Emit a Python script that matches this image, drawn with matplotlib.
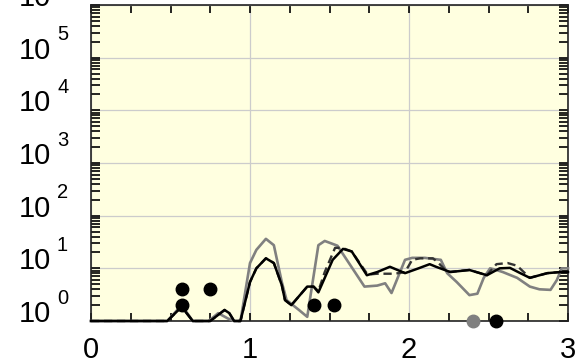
import matplotlib
matplotlib.use('Agg')
import matplotlib.pyplot as plt
import matplotlib.transforms as mtransforms
from matplotlib.ticker import MultipleLocator, LogLocator, NullFormatter

plt.rcParams['font.family'] = ['Liberation Sans', 'DejaVu Sans']

# solid black curve
black_x = [0, 0.48, 0.57, 0.64, 0.75, 0.84, 0.87, 0.90, 0.94, 1.00, 1.04, 1.10, 1.15, 1.20,
           1.22, 1.26, 1.36, 1.40, 1.43, 1.52, 1.585, 1.64, 1.735, 1.80, 1.88, 1.975, 2.06,
           2.13, 2.17, 2.26, 2.38, 2.49, 2.57, 2.635, 2.70, 2.76, 2.87, 2.95, 3.0]
black_y = [1, 1, 1.86, 1, 1, 1.62, 1.41, 1, 1, 5.5, 10, 15.5, 12.6, 4.8,
           2.5, 2.0, 4.5, 4.5, 3.5, 14.5, 23.4, 20.9, 7.4, 8.5, 10.7, 8.1, 10,
           12, 10.7, 8.5, 9.3, 7.4, 10, 10.2, 8.1, 6.6, 8.1, 8.5, 8.5]

# dashed curve
dash_x = [0, 0.48, 0.57, 0.64, 0.75, 0.84, 0.87, 0.90, 0.94, 1.00, 1.04, 1.10, 1.15, 1.20,
          1.22, 1.26, 1.36, 1.40, 1.43, 1.47, 1.535, 1.58, 1.64, 1.74, 1.80, 1.91, 1.975,
          2.02, 2.07, 2.15, 2.18, 2.24, 2.38, 2.49, 2.55, 2.62, 2.68, 2.76, 2.87, 2.95, 3.0]
dash_y = [1, 1, 1.86, 1, 1, 1.62, 1.41, 1, 1, 5.5, 10, 15.5, 12.6, 4.8,
          2.5, 2.0, 4.5, 4.5, 3.7, 8.5, 24.5, 24.5, 20.9, 7.6, 7.9, 7.9, 8.5,
          14.5, 15.5, 15.5, 13.2, 8.5, 9.3, 7.4, 12, 12.6, 11.2, 6.6, 8.1, 8.5, 8.5]

# gray curve
gray_x = [0, 0.48, 0.57, 0.64, 0.74, 0.80, 0.86, 0.90, 0.94, 1.00, 1.04, 1.10, 1.15, 1.20,
          1.23, 1.31, 1.36, 1.43, 1.47, 1.55, 1.72, 1.80, 1.85, 1.89, 1.975, 2.02, 2.10,
          2.20, 2.24, 2.30, 2.38, 2.43, 2.47, 2.51, 2.54, 2.59, 2.68, 2.76, 2.82, 2.89,
          2.93, 2.96, 3.0]
gray_y = [1, 1, 2.0, 1, 1, 1.41, 1.12, 1, 1, 12.6, 22.4, 36.3, 27.5, 5.5,
          2.5, 1.6, 1.2, 27.5, 33.1, 26.9, 4.5, 4.7, 5.2, 3.4, 14.5, 15.8, 15.8,
          14.5, 8.1, 5.5, 3.1, 3.3, 6.6, 10, 9.5, 8.5, 6.6, 4.5, 4.0, 3.9,
          6.0, 10, 10]

# dots
black_dot_x = [0.575, 0.575, 0.75, 1.405, 1.53, 2.545]
black_dot_y = [4.05, 2.0, 4.05, 2.0, 2.0, 1.0]
gray_dot_x = [2.40]
gray_dot_y = [1.0]

decades = [0, 1, 2, 3, 4, 5, 6]

fig = plt.figure(figsize=(5.85, 3.64), dpi=100)
ax = fig.add_axes([91/585, 43/364, 477/585, 316/364])
ax.set_facecolor('#ffffe0')
ax.set_yscale('log')
ax.set_xlim(0, 3)
ax.set_ylim(1, 1e6)

ax.plot(gray_x, gray_y, color='#808080', lw=1.9, clip_on=False, zorder=3)
ax.plot(dash_x, dash_y, color='#333333', lw=1.7, ls=(0, (3.5, 2)), clip_on=False, zorder=4)
ax.plot(black_x, black_y, color='black', lw=1.8, clip_on=False, zorder=5)
ax.plot(black_dot_x, black_dot_y, 'o', color='black', ms=9, clip_on=False, zorder=6)
ax.plot(gray_dot_x, gray_dot_y, 'o', color='#808080', ms=9, clip_on=False, zorder=6)

ax.xaxis.set_major_locator(MultipleLocator(1))
ax.xaxis.set_minor_locator(MultipleLocator(0.25))
ax.yaxis.set_major_locator(LogLocator(base=10, numticks=10))
ax.yaxis.set_minor_locator(LogLocator(base=10, subs=range(2, 10), numticks=10))
ax.yaxis.set_major_formatter(NullFormatter())
ax.yaxis.set_minor_formatter(NullFormatter())

ax.grid(True, which='major', color='#cccccc', lw=0.9)
ax.set_axisbelow(True)
ax.tick_params(which='both', direction='in', top=True, right=True, color='black', width=1.2)
ax.tick_params(axis='x', which='both', length=6, labelsize=21, pad=11)
ax.tick_params(axis='y', which='both', length=6.5)
for s in ax.spines.values():
    s.set_color('#222222')
    s.set_linewidth(1.2)

# y labels: 10 with raised exponent
base_tr = mtransforms.offset_copy(ax.get_yaxis_transform(), fig=fig, x=-40, y=-1, units='dots')
exp_tr = mtransforms.offset_copy(ax.get_yaxis_transform(), fig=fig, x=-34, y=17.5, units='dots')
for d in decades:
    ax.text(0, 10.0**d, '10', transform=base_tr, ha='right', va='baseline', fontsize=21)
    ax.text(0, 10.0**d, str(d), transform=exp_tr, ha='left', va='baseline', fontsize=14.5)

fig.savefig('out.png', dpi=100)
